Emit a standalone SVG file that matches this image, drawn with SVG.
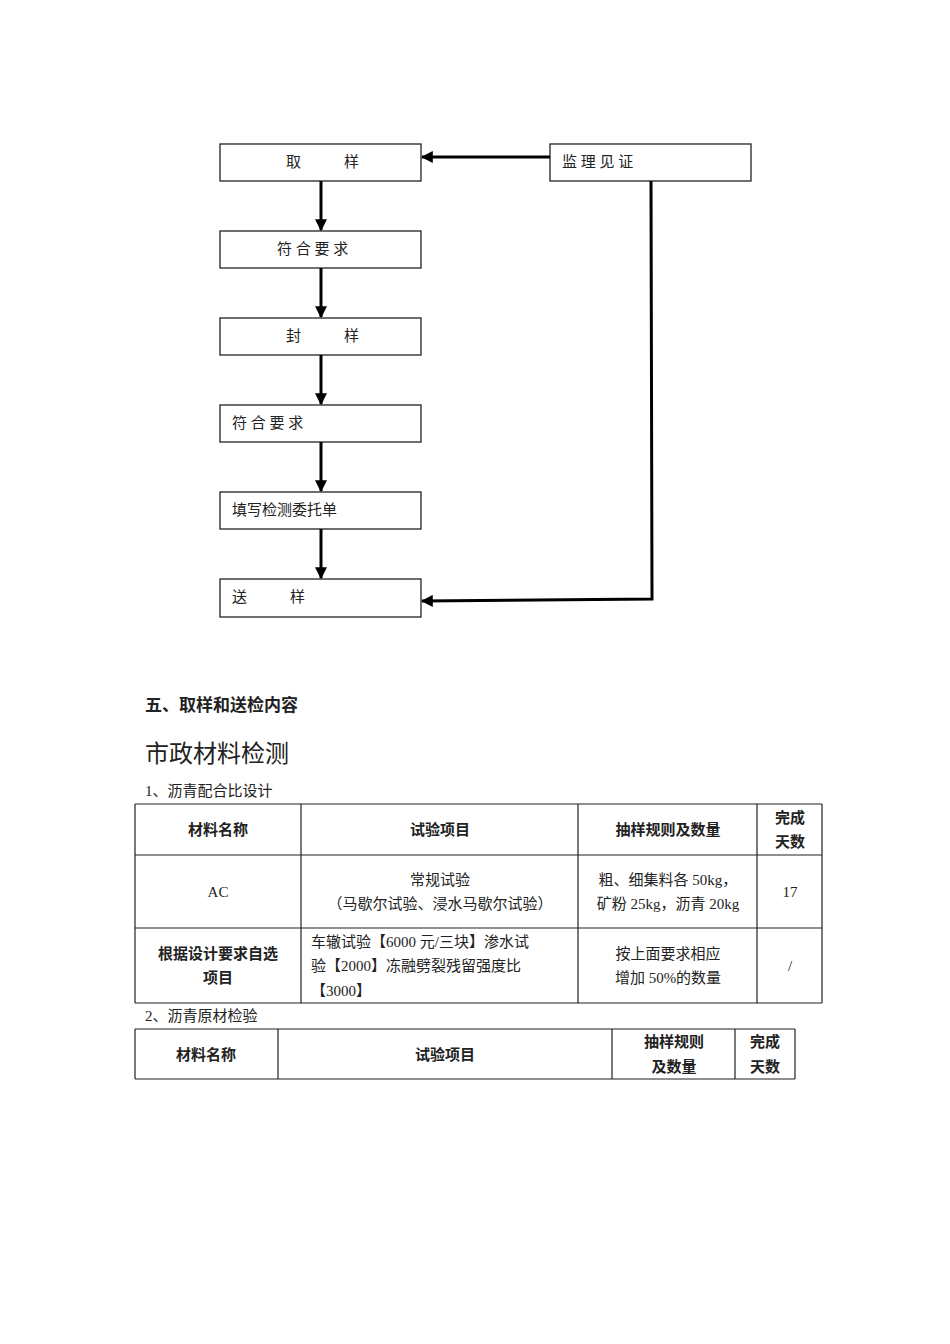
<svg xmlns="http://www.w3.org/2000/svg" width="950" height="1344" viewBox="0 0 950 1344">
<style>
text{font-family:"Liberation Serif","Noto Sans CJK SC",serif;font-size:15px;fill:#222}
.b{font-weight:bold;font-family:"Liberation Sans","Noto Sans CJK SC",sans-serif}
.c{text-anchor:middle}
.box{fill:#fff;stroke:#222;stroke-width:1.3}
.cn{stroke:#000;stroke-width:3;fill:none}
.t{stroke:#222;stroke-width:1.2;fill:none}
</style>
<defs><marker id="a" viewBox="0 0 10 10" refX="9" refY="5" markerWidth="4" markerHeight="4" orient="auto"><path d="M0,0L10,5L0,10z" fill="#000"/></marker></defs>
<rect width="950" height="1344" fill="#fff"/>
<g id="n1"><rect class="box" x="220" y="144" width="201" height="37"/><text x="286" y="167">取</text><text x="344" y="167">样</text></g>
<g id="n2"><rect class="box" x="220" y="231" width="201" height="37"/><text x="277" y="254">符 合 要 求</text></g>
<g id="n3"><rect class="box" x="220" y="318" width="201" height="37"/><text x="286" y="341">封</text><text x="344" y="341">样</text></g>
<g id="n4"><rect class="box" x="220" y="405" width="201" height="37"/><text x="232" y="428">符 合 要 求</text></g>
<g id="n5"><rect class="box" x="220" y="492" width="201" height="37"/><text x="232" y="515">填写检测委托单</text></g>
<g id="n6"><rect class="box" x="220" y="579" width="201" height="38"/><text x="232" y="602">送</text><text x="290" y="602">样</text></g>
<g id="n7"><rect class="box" x="550" y="144" width="201" height="37"/><text x="562" y="167">监 理 见 证</text></g>
<g id="connectors">
<path class="cn" marker-end="url(#a)" d="M321,181V230"/>
<path class="cn" marker-end="url(#a)" d="M321,268V317"/>
<path class="cn" marker-end="url(#a)" d="M321,355V404"/>
<path class="cn" marker-end="url(#a)" d="M321,442V491"/>
<path class="cn" marker-end="url(#a)" d="M321,529V578"/>
<path class="cn" marker-end="url(#a)" d="M550,157H422"/>
<path class="cn" marker-end="url(#a)" d="M651,181L652,599L422,601"/>
</g>
<text x="145" y="711" class="b" style="font-size:17px">五、取样和送检内容</text>
<text x="145" y="762" style="font-size:24px;font-family:'Liberation Sans','Noto Sans CJK SC',sans-serif">市政材料检测</text>
<text x="145" y="796">1、沥青配合比设计</text>
<g id="table1">
<path class="t" d="M135,804H822M135,855H822M135,928H822M135,1003H822M135,804V1003M301,804V1003M578,804V1003M757,804V1003M822,804V1003"/>
<text class="b c" x="218" y="835">材料名称</text>
<text class="b c" x="440" y="835">试验项目</text>
<text class="b c" x="668" y="835">抽样规则及数量</text>
<text class="b c" x="790" y="823">完成</text><text class="b c" x="790" y="847">天数</text>
<text class="c" x="218" y="897">AC</text>
<text class="c" x="440" y="885">常规试验</text>
<text class="c" x="440" y="909">（马歇尔试验、浸水马歇尔试验）</text>
<text class="c" x="668" y="885">粗、细集料各 50kg，</text>
<text class="c" x="668" y="909">矿粉 25kg，沥青 20kg</text>
<text class="c" x="790" y="897">17</text>
<text class="b c" x="218" y="959">根据设计要求自选</text>
<text class="b c" x="218" y="983">项目</text>
<text x="311" y="947">车辙试验【6000 元/三块】渗水试</text>
<text x="311" y="971">验【2000】冻融劈裂残留强度比</text>
<text x="311" y="996">【3000】</text>
<text class="c" x="668" y="959">按上面要求相应</text>
<text class="c" x="668" y="983">增加 50%的数量</text>
<text class="c" x="790" y="971">/</text>
</g>
<text x="145" y="1021">2、沥青原材检验</text>
<g id="table2">
<path class="t" d="M135,1029H795M135,1079H795M135,1029V1079M278,1029V1079M612,1029V1079M735,1029V1079M795,1029V1079"/>
<text class="b c" x="206" y="1060">材料名称</text>
<text class="b c" x="445" y="1060">试验项目</text>
<text class="b c" x="674" y="1047">抽样规则</text><text class="b c" x="674" y="1072">及数量</text>
<text class="b c" x="765" y="1047">完成</text><text class="b c" x="765" y="1072">天数</text>
</g>
</svg>
